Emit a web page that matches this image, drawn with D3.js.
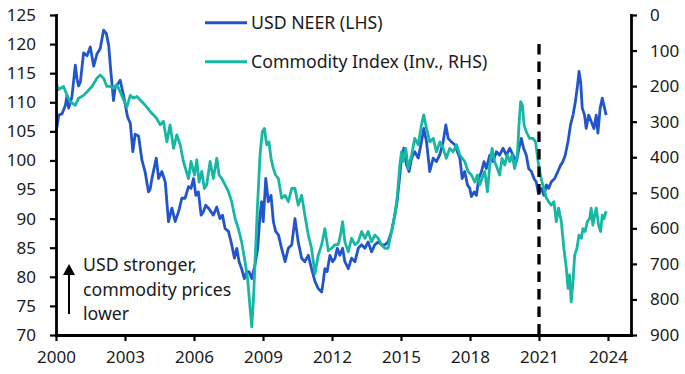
<!DOCTYPE html>
<html><head><meta charset="utf-8">
<script src="https://cdn.jsdelivr.net/npm/d3@7"></script>
<style>body{margin:0;background:#fff}svg{display:block}</style>
</head><body><svg id="c" width="685" height="374"></svg>
<script>
// ---- data ----
const xTicks = [2000, 2003, 2006, 2009, 2012, 2015, 2018, 2021, 2024];
const leftTicks = [70, 75, 80, 85, 90, 95, 100, 105, 110, 115, 120, 125];
const rightTicks = [0, 100, 200, 300, 400, 500, 600, 700, 800, 900];
const seriesNames = ["USD NEER (LHS)", "Commodity Index (Inv., RHS)"];
const annotationLines = ["USD stronger,", "commodity prices", "lower"];
const markerYear = 2021;

// [decimal year, value] USD nominal effective exchange rate (LHS)
const usdNeer = [[2000.01,105.0],[2000.12,107.8],[2000.26,108.0],[2000.41,109.5],[2000.48,111.2],[2000.55,109.0],[2000.69,110.9],[2000.84,116.4],[2000.91,114.1],[2000.98,112.8],[2001.06,113.5],[2001.20,118.5],[2001.35,118.0],[2001.49,119.5],[2001.64,116.2],[2001.78,118.3],[2001.92,119.2],[2002.07,122.4],[2002.19,121.8],[2002.29,119.8],[2002.38,115.5],[2002.50,110.3],[2002.58,112.8],[2002.70,113.2],[2002.79,113.8],[2002.94,111.1],[2003.11,107.5],[2003.23,106.4],[2003.34,101.5],[2003.44,104.5],[2003.59,104.2],[2003.73,100.2],[2003.88,97.9],[2004.02,94.6],[2004.09,95.0],[2004.17,96.9],[2004.36,100.4],[2004.46,96.9],[2004.60,98.1],[2004.75,96.3],[2004.89,89.5],[2005.04,91.8],[2005.18,89.5],[2005.33,91.2],[2005.47,93.5],[2005.61,93.5],[2005.76,95.5],[2005.87,95.2],[2005.98,96.9],[2006.08,94.0],[2006.19,94.6],[2006.31,90.6],[2006.41,91.2],[2006.51,92.3],[2006.63,91.8],[2006.74,91.2],[2006.84,90.6],[2006.99,92.0],[2007.13,90.0],[2007.24,90.6],[2007.35,88.3],[2007.50,87.8],[2007.64,85.5],[2007.76,83.2],[2007.86,84.9],[2007.96,82.6],[2008.07,81.4],[2008.19,79.7],[2008.29,80.9],[2008.39,80.9],[2008.51,79.7],[2008.65,82.0],[2008.77,84.9],[2008.87,90.6],[2008.94,92.9],[2009.01,89.5],[2009.12,96.9],[2009.23,92.9],[2009.35,94.0],[2009.45,89.5],[2009.55,87.8],[2009.67,87.2],[2009.81,84.9],[2009.96,82.6],[2010.10,84.9],[2010.25,85.5],[2010.39,90.0],[2010.53,86.0],[2010.68,83.2],[2010.82,82.6],[2010.97,83.7],[2011.11,81.4],[2011.26,79.2],[2011.40,78.0],[2011.55,77.4],[2011.62,79.2],[2011.69,81.4],[2011.79,80.9],[2011.91,83.7],[2012.03,82.6],[2012.13,83.2],[2012.23,84.9],[2012.34,83.7],[2012.46,84.9],[2012.56,82.6],[2012.71,81.4],[2012.85,83.2],[2013.00,82.6],[2013.14,84.9],[2013.29,85.5],[2013.43,84.9],[2013.57,86.0],[2013.72,84.3],[2013.86,85.5],[2014.01,86.0],[2014.15,85.5],[2014.30,85.5],[2014.44,86.0],[2014.59,87.8],[2014.73,90.6],[2014.83,92.9],[2014.95,97.5],[2015.02,100.4],[2015.12,102.1],[2015.24,99.2],[2015.35,98.1],[2015.46,100.4],[2015.60,101.5],[2015.75,100.4],[2015.89,103.2],[2015.99,105.5],[2016.11,103.2],[2016.25,98.1],[2016.40,100.4],[2016.54,99.8],[2016.69,101.0],[2016.83,103.2],[2016.95,106.1],[2017.05,103.8],[2017.19,103.2],[2017.34,102.7],[2017.45,101.5],[2017.56,100.4],[2017.66,96.9],[2017.77,98.1],[2017.89,95.8],[2017.99,95.2],[2018.06,93.8],[2018.18,94.6],[2018.28,94.0],[2018.38,96.9],[2018.50,98.1],[2018.61,99.8],[2018.71,98.6],[2018.86,100.9],[2019.00,99.8],[2019.15,101.5],[2019.29,100.9],[2019.44,102.1],[2019.58,100.9],[2019.73,102.1],[2019.87,100.9],[2020.02,99.8],[2020.13,102.1],[2020.23,103.8],[2020.33,102.1],[2020.45,100.9],[2020.55,98.6],[2020.67,98.1],[2020.78,96.9],[2020.88,96.3],[2020.98,94.3],[2021.10,95.2],[2021.22,94.0],[2021.32,95.8],[2021.42,95.2],[2021.53,96.3],[2021.68,96.9],[2021.82,98.1],[2021.94,99.2],[2022.04,99.8],[2022.14,100.9],[2022.26,103.2],[2022.37,106.1],[2022.48,107.8],[2022.58,110.1],[2022.66,112.4],[2022.74,115.3],[2022.81,113.5],[2022.88,109.0],[2022.98,107.8],[2023.05,105.5],[2023.16,107.8],[2023.27,106.7],[2023.39,105.5],[2023.49,107.8],[2023.56,104.7],[2023.66,109.0],[2023.75,110.7],[2023.82,109.5],[2023.92,107.8]];

// [decimal year, value] commodity index (RHS, inverted axis)
const commodityIndex = [[2000.01,191],[2000.10,210],[2000.19,206],[2000.33,201],[2000.48,226],[2000.62,244],[2000.84,254],[2000.98,234],[2001.20,226],[2001.35,216],[2001.56,201],[2001.78,178],[2001.92,169],[2002.07,178],[2002.21,201],[2002.36,201],[2002.50,206],[2002.65,196],[2002.79,216],[2002.94,239],[2003.08,259],[2003.23,226],[2003.37,234],[2003.52,229],[2003.66,239],[2003.81,249],[2003.95,259],[2004.10,272],[2004.24,281],[2004.38,291],[2004.53,309],[2004.67,299],[2004.82,357],[2004.96,309],[2005.11,375],[2005.25,337],[2005.40,365],[2005.54,412],[2005.76,460],[2005.87,412],[2006.02,450],[2006.12,407],[2006.22,470],[2006.34,440],[2006.45,488],[2006.55,478],[2006.70,412],[2006.84,460],[2006.99,403],[2007.09,450],[2007.21,460],[2007.35,478],[2007.50,497],[2007.64,525],[2007.79,573],[2007.93,601],[2008.07,638],[2008.22,694],[2008.33,741],[2008.44,825],[2008.51,877],[2008.58,807],[2008.68,656],[2008.77,525],[2008.87,394],[2008.97,329],[2009.06,319],[2009.16,365],[2009.26,357],[2009.35,403],[2009.45,432],[2009.55,450],[2009.67,460],[2009.81,515],[2009.96,507],[2010.10,525],[2010.25,488],[2010.39,488],[2010.53,535],[2010.68,507],[2010.82,563],[2010.97,619],[2011.11,656],[2011.26,728],[2011.40,676],[2011.55,646],[2011.69,601],[2011.84,663],[2011.98,656],[2012.13,646],[2012.27,646],[2012.37,619],[2012.46,581],[2012.56,638],[2012.71,666],[2012.85,628],[2013.00,646],[2013.14,638],[2013.29,609],[2013.43,628],[2013.57,609],[2013.72,638],[2013.86,619],[2014.01,628],[2014.15,646],[2014.30,656],[2014.44,656],[2014.59,609],[2014.73,563],[2014.83,515],[2014.95,422],[2015.02,385],[2015.09,412],[2015.21,375],[2015.31,432],[2015.46,394],[2015.60,347],[2015.75,365],[2015.89,309],[2015.99,281],[2016.11,319],[2016.25,357],[2016.40,347],[2016.54,385],[2016.69,357],[2016.83,375],[2016.97,403],[2017.12,375],[2017.26,385],[2017.41,365],[2017.55,393],[2017.77,412],[2017.92,440],[2018.06,450],[2018.21,470],[2018.32,450],[2018.42,478],[2018.52,460],[2018.64,440],[2018.76,497],[2018.86,422],[2018.96,375],[2019.07,412],[2019.19,432],[2019.29,450],[2019.39,403],[2019.51,422],[2019.62,394],[2019.73,412],[2019.83,394],[2019.94,432],[2020.06,394],[2020.13,309],[2020.20,244],[2020.28,254],[2020.35,309],[2020.45,329],[2020.59,347],[2020.74,347],[2020.85,357],[2020.96,412],[2021.03,440],[2021.13,470],[2021.22,488],[2021.32,515],[2021.42,525],[2021.53,535],[2021.65,525],[2021.75,581],[2021.85,543],[2021.97,581],[2022.08,656],[2022.19,713],[2022.26,769],[2022.33,731],[2022.40,807],[2022.48,749],[2022.55,676],[2022.65,656],[2022.74,619],[2022.84,628],[2022.91,601],[2023.01,609],[2023.10,581],[2023.20,573],[2023.27,543],[2023.34,591],[2023.42,563],[2023.49,543],[2023.59,591],[2023.68,609],[2023.75,563],[2023.82,573],[2023.92,552]];

// ---- drawing ----
const BLUE = "#2255cc", TEAL = "#16b8a3", INK = "#1a1a1a";
const FONT = "'Noto Sans', 'Open Sans', sans-serif";
const FS = 17, FS_TEXT = 17.7;
const svg = d3.select("#c");

const x = d3.scaleLinear().domain([2000, 2025]).range([56, 631]);
const yL = d3.scaleLinear().domain([70, 125]).range([335, 15]);
const yR = d3.scaleLinear().domain([0, 900]).range([15, 335]);

const lineL = d3.line().x(d => x(d[0])).y(d => yL(d[1]));
const lineR = d3.line().x(d => x(d[0])).y(d => yR(d[1]));

svg.append("path").datum(usdNeer).attr("d", lineL)
  .attr("fill", "none").attr("stroke", BLUE).attr("stroke-width", 2.8)
  .attr("stroke-linejoin", "round");
svg.append("path").datum(commodityIndex).attr("d", lineR)
  .attr("fill", "none").attr("stroke", TEAL).attr("stroke-width", 2.8)
  .attr("stroke-linejoin", "round");

// vertical dashed marker
svg.append("line")
  .attr("x1", x(markerYear)).attr("x2", x(markerYear))
  .attr("y1", yL(120)).attr("y2", yL(70))
  .attr("stroke", "#000").attr("stroke-width", 3.3)
  .attr("stroke-dasharray", "10.5,7");

function styleAxis(g) {
  g.select(".domain").attr("stroke", "#000").attr("stroke-width", 2.8).attr("stroke-linecap", "square");
  g.selectAll(".tick line").attr("stroke", "#000").attr("stroke-width", 2.2);
  g.selectAll(".tick text").attr("fill", INK).style("font-family", FONT).style("font-size", FS + "px");
}

const gB = svg.append("g").attr("transform", "translate(0,335)")
  .call(d3.axisBottom(x).tickValues(xTicks).tickFormat(d3.format("d")).tickSize(6).tickPadding(10).tickSizeOuter(0));
styleAxis(gB);

const gL = svg.append("g").attr("transform", "translate(56,0)")
  .call(d3.axisLeft(yL).tickValues(leftTicks).tickSize(6).tickPadding(14).tickSizeOuter(0));
styleAxis(gL);

const gR = svg.append("g").attr("transform", "translate(631,0)")
  .call(d3.axisRight(yR).tickValues(rightTicks).tickSize(6).tickPadding(13).tickSizeOuter(0));
styleAxis(gR);

// legend
const legendColors = [BLUE, TEAL];
const legendY = [22.7, 61.7];
seriesNames.forEach((name, i) => {
  svg.append("line").attr("x1", 205).attr("x2", 247)
    .attr("y1", legendY[i]).attr("y2", legendY[i])
    .attr("stroke", legendColors[i]).attr("stroke-width", 3);
  svg.append("text").attr("x", 251).attr("y", legendY[i] + 6.3)
    .attr("fill", INK).style("font-family", FONT).style("font-size", FS_TEXT + "px")
    .text(name);
});

// annotation arrow + text
svg.append("line").attr("x1", 69).attr("x2", 69).attr("y1", 314).attr("y2", 273)
  .attr("stroke", "#000").attr("stroke-width", 2);
svg.append("path").attr("d", "M69,264 L75,275 L63,275 Z").attr("fill", "#000");
annotationLines.forEach((t, i) => {
  svg.append("text").attr("x", 83).attr("y", 271 + i * 24.5)
    .attr("fill", INK).style("font-family", FONT).style("font-size", FS_TEXT + "px")
    .text(t);
});
</script>
</body></html>
